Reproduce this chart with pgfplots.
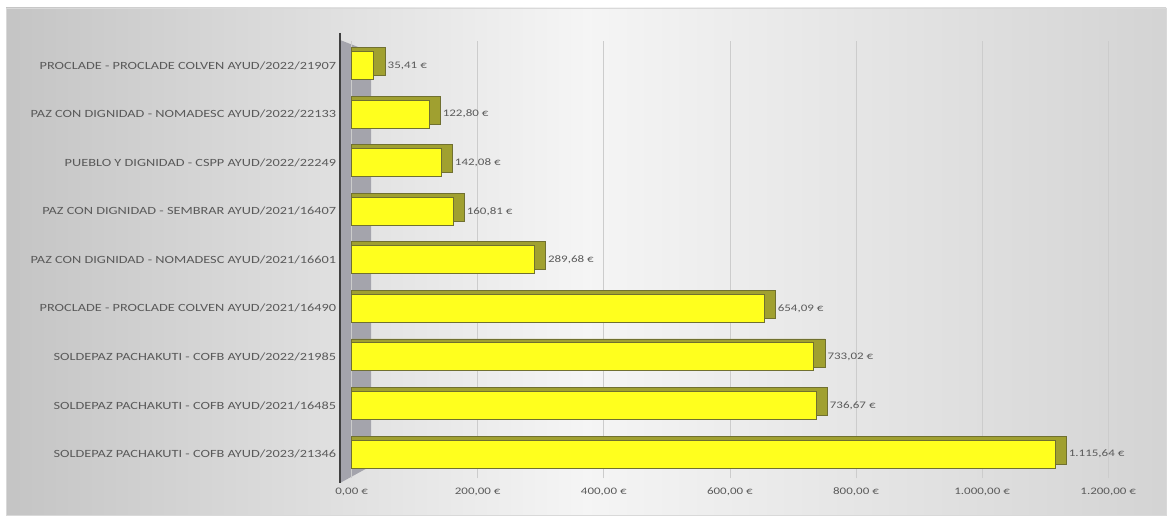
\documentclass[border=0pt]{standalone}
\usepackage{pgfplots}
\pgfplotsset{compat=1.18}
\usepackage{pgfplotstable}
\usepackage{fontspec}
\setmainfont{Carlito}
\newfontfamily\anchofont[FakeStretch=1.3]{Carlito}

\definecolor{barfill}{HTML}{FFFF1E}
\definecolor{barside}{HTML}{A0A030}
\definecolor{baredge}{HTML}{707030}
\definecolor{wallgray}{HTML}{A4A4AC}
\definecolor{txt}{HTML}{5A5A5A}

% importes por proyecto, de abajo arriba
\pgfplotstableread{
pos val lab
0 1115.64 {1.115,64 €}
1 736.67 {736,67 €}
2 733.02 {733,02 €}
3 654.09 {654,09 €}
4 289.68 {289,68 €}
5 160.81 {160,81 €}
6 142.08 {142,08 €}
7 122.80 {122,80 €}
8 35.41 {35,41 €}
}\gastos

\begin{document}
\begin{tikzpicture}[x=1pt,y=1pt]
\useasboundingbox (0,0) rectangle (1170,519);
\fill[white] (0,0) rectangle (1170,519);
\shade[left color=black!23, right color=black!17, middle color=black!4] (6,4) rectangle (1166,511);
\draw[black!15] (6,4) rectangle (1166,511);
% pared lateral
\fill[wallgray] (340,479) -- (371,467) -- (371,53) -- (340,36) -- cycle;
\begin{axis}[
    at={(351.6pt,40.7pt)}, anchor=south west,
    scale only axis,
    width=756.6pt, height=437pt,
    xbar, bar width=28pt,
    xmin=0, xmax=1200, ymin=-0.5, ymax=8.5,
    axis line style={draw=none},
    xtick={0,200,...,1200},
    xticklabels={{0,00 €},{200,00 €},{400,00 €},{600,00 €},{800,00 €},{1.000,00 €},{1.200,00 €}},
    ytick={0,...,8},
    yticklabels={
        SOLDEPAZ PACHAKUTI - COFB AYUD/2023/21346,
        SOLDEPAZ PACHAKUTI - COFB AYUD/2021/16485,
        SOLDEPAZ PACHAKUTI - COFB AYUD/2022/21985,
        PROCLADE - PROCLADE COLVEN AYUD/2021/16490,
        PAZ CON DIGNIDAD - NOMADESC AYUD/2021/16601,
        PAZ CON DIGNIDAD - SEMBRAR AYUD/2021/16407,
        PUEBLO Y DIGNIDAD - CSPP AYUD/2022/22249,
        PAZ CON DIGNIDAD - NOMADESC AYUD/2022/22133,
        PROCLADE - PROCLADE COLVEN AYUD/2022/21907},
    major tick length=0pt,
    xticklabel style={font=\anchofont\fontsize{10}{12}\selectfont, text=txt, yshift=-6pt},
    yticklabel style={font=\anchofont\fontsize{11}{13}\selectfont, text=txt, xshift=-12pt},
    xmajorgrids, grid style={black!20, line width=0.7pt},
    clip=false,
]
\addplot[fill=barside, draw=baredge, line width=0.6pt, bar shift=4pt, forget plot]
    table[x expr=\thisrow{val}+18, y=pos]{\gastos};
\addplot[fill=barfill, draw=baredge, line width=0.9pt, bar shift=0pt,
    nodes near coords, point meta=explicit symbolic,
    nodes near coords style={anchor=west, xshift=10pt, font=\anchofont\fontsize{10}{12}\selectfont, text=txt}]
    table[x=val, y=pos, meta=lab]{\gastos};
\end{axis}
\draw[black!75, line width=1.6pt] (340,486) -- (340,36);
\end{tikzpicture}
\end{document}
